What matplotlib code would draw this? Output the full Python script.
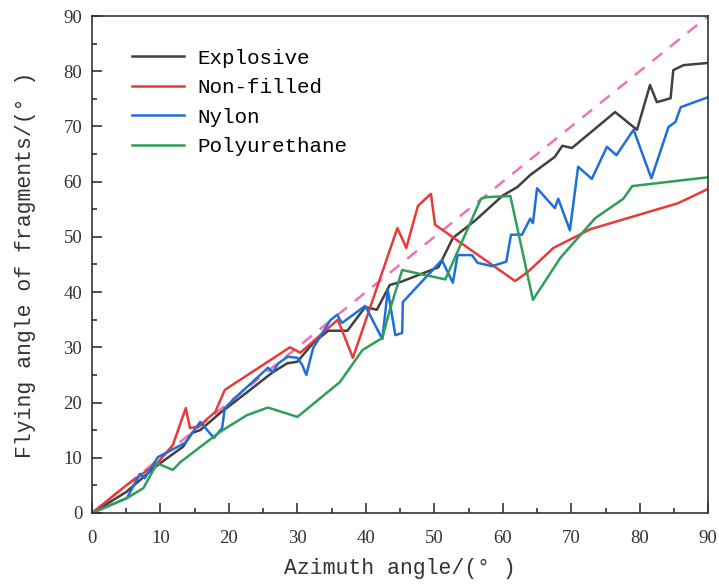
import numpy as np
import matplotlib.pyplot as plt
from matplotlib.ticker import MultipleLocator

exp_x = [0, 5, 7.5, 9.6, 13.3, 14.6, 15.8, 18.7, 20.6, 23.1, 26.3, 28.5, 30, 32.3, 34.5, 37.3,
         39.9, 41.6, 43.5, 45, 50.6, 52.7, 56, 60, 62.1, 64, 67.6, 68.7, 70.1, 76.4, 79.6,
         81.5, 82.5, 84.5, 84.9, 86.4, 90]
exp_y = [0, 3.8, 6.5, 8.7, 12, 14.5, 15, 18.1, 19.9, 22.3, 25.4, 27.1, 27.4, 30.8, 33, 33,
         37.3, 36.8, 41.3, 41.8, 44.5, 49.8, 53, 57.5, 59, 61.2, 64.5, 66.5, 66.1, 72.6, 69.4,
         77.5, 74.4, 75.1, 80.2, 81.1, 81.5]

non_x = [0, 5.1, 9.5, 11.8, 13.7, 14.3, 15.5, 18, 19.4, 28.9, 29.7, 30.4, 35.9, 38.1, 44.6,
         45.9, 47.6, 49.5, 50.1, 61.8, 63.6, 67.4, 72.8, 85.6, 90]
non_y = [0, 5.1, 9, 12.3, 19, 15.4, 15.6, 18.3, 22.3, 30, 29.5, 29, 35, 28.1, 51.6,
         48, 55.6, 57.8, 52.2, 42, 43.6, 48, 51.4, 56.1, 58.7]

nyl_x = [0, 5.1, 7, 7.7, 9.6, 13.6, 15.8, 17.8, 19, 19.4, 20.6, 25.7, 26.4, 27.2, 28.6, 30,
         30.7, 31.3, 32.3, 34.8, 35.8, 36.5, 39.9, 42.4, 43.2, 44.3, 45.3, 45.4, 51.1, 52.7,
         53.4, 55.5, 56.3, 58.4, 60.5, 61.2, 62.8, 64, 64.4, 65, 67.6, 68.1, 69.8, 71, 73,
         75.2, 76.6, 79.1, 81.7, 84.2, 85.2, 86, 90]
nyl_y = [0, 2.7, 7.1, 6.3, 10.1, 12.7, 16.5, 13.6, 15.4, 19, 20.5, 26.3, 25.5, 27.1, 28.3, 28.1,
         26.8, 25, 29.9, 34.9, 35.9, 34.4, 37.5, 31.5, 40.4, 32.2, 32.6, 38.2, 45.8, 41.7,
         46.7, 46.7, 45.3, 44.7, 45.5, 50.4, 50.4, 53.3, 52.5, 58.8, 55.2, 56.9, 51.2, 62.7, 60.5,
         66.3, 64.8, 69.4, 60.6, 69.9, 70.8, 73.5, 75.3]

pu_x = [0, 5.1, 7.5, 9.5, 11.8, 12.9, 18.7, 22.6, 25.7, 30, 36.2, 39.5, 42.4, 43.5, 45.3,
        51.6, 56.8, 57.7, 61.1, 64.4, 68.4, 73.5, 77.6, 78.9, 90]
pu_y = [0, 2.7, 4.5, 9, 7.8, 9.2, 14.7, 17.7, 19.1, 17.4, 23.7, 29.5, 31.7, 36.8, 44,
        42.3, 56.9, 57.2, 57.4, 38.6, 46.2, 53.4, 56.9, 59.2, 60.8]

ref_x = [0, 90]
ref_y = [0, 90]

plt.rcParams['font.family'] = ['Liberation Mono', 'DejaVu Sans Mono']

fig = plt.figure(figsize=(7.19, 5.84), dpi=100)
ax = fig.add_axes([0.128, 0.1216, 0.857, 0.851])

ax.plot(ref_x, ref_y, c="#ee72b8", lw=1.8, ls=(0, (5, 4)))
ax.plot(exp_x, exp_y, c="#404040", lw=1.8, label="Explosive")
ax.plot(non_x, non_y, c="#e83a3a", lw=1.8, label="Non-filled")
ax.plot(nyl_x, nyl_y, c="#1f6fd8", lw=1.8, label="Nylon")
ax.plot(pu_x, pu_y, c="#2e9e58", lw=1.8, label="Polyurethane")

ax.set_xlim(0, 90)
ax.set_ylim(0, 90)
ax.xaxis.set_major_locator(MultipleLocator(10))
ax.yaxis.set_major_locator(MultipleLocator(10))
ax.xaxis.set_minor_locator(MultipleLocator(5))
ax.yaxis.set_minor_locator(MultipleLocator(5))
ax.tick_params(which="both", direction="in", width=1.2, color="#333333")
ax.tick_params(which="major", length=7)
ax.tick_params(which="minor", length=3.5)
ax.tick_params(axis="x", pad=12)
ax.tick_params(axis="y", pad=7)
for lab in ax.get_xticklabels() + ax.get_yticklabels():
    lab.set_fontfamily("Liberation Serif")
    lab.set_fontsize(13.5)
    lab.set_color("#333333")
for s in ax.spines.values():
    s.set_linewidth(1.2)
    s.set_color("#333333")

ax.set_xlabel("Azimuth angle/(° )", fontsize=15.5, labelpad=8, color="#333333")
ax.set_ylabel("Flying angle of fragments/(° )", fontsize=15.5, labelpad=20, color="#333333")

ax.legend(loc="upper left", bbox_to_anchor=(0.034, 0.972), frameon=False, fontsize=15,
          handlelength=2.5, handletextpad=0.63, labelspacing=0.5)

fig.savefig("out.png", dpi=100)
